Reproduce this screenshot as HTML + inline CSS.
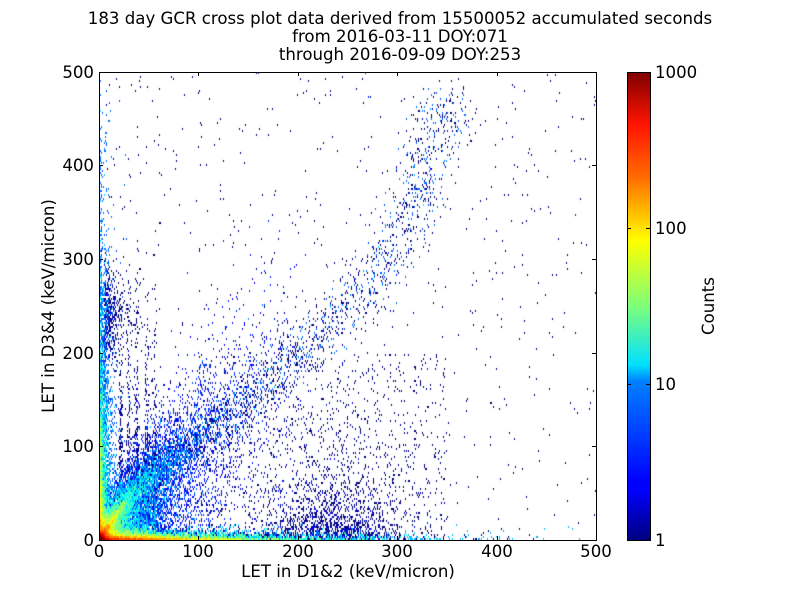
<!DOCTYPE html>
<html><head><meta charset="utf-8"><style>
body{margin:0;background:#fff;width:800px;height:600px;overflow:hidden;font-family:"Liberation Sans","DejaVu Sans",sans-serif}
#c{position:absolute;left:99px;top:72px}
svg{position:absolute;left:0;top:0}
text{font-family:"DejaVu Sans","Liberation Sans",sans-serif;fill:#000}
</style></head><body>
<canvas id="c" width="497" height="468"></canvas>
<svg width="800" height="600">
<defs><linearGradient id="jet" x1="0" y1="1" x2="0" y2="0">
<stop offset="0" stop-color="#00007f"/><stop offset="0.11" stop-color="#0000ff"/><stop offset="0.125" stop-color="#0000ff"/><stop offset="0.34" stop-color="#0080ff"/><stop offset="0.375" stop-color="#00e0ff"/><stop offset="0.5" stop-color="#7dff7a"/><stop offset="0.64" stop-color="#ffff00"/><stop offset="0.78" stop-color="#ff6800"/><stop offset="0.89" stop-color="#ff1300"/><stop offset="1" stop-color="#7f0000"/></linearGradient></defs>
<g font-size="16.6" text-anchor="middle">
<text x="400" y="24">183 day GCR cross plot data derived from 15500052 accumulated seconds</text>
<text x="400" y="42">from 2016-03-11 DOY:071</text>
<text x="400" y="60">through 2016-09-09 DOY:253</text>
</g>
<rect x="99.5" y="72.5" width="497" height="468" fill="none" stroke="#000"/>
<g stroke="#000" stroke-width="1">
<path d="M99.5 540v-4M198.5 540v-4M298.5 540v-4M397.5 540v-4M497.5 540v-4M596.5 540v-4M99.5 72v4M198.5 72v4M298.5 72v4M397.5 72v4M497.5 72v4M596.5 72v4"/>
<path d="M99 540.5h4M99 446.5h4M99 353.5h4M99 259.5h4M99 165.5h4M99 72.5h4M596 446.5h-4M596 353.5h-4M596 259.5h-4M596 165.5h-4M596 72.5h-4"/>
</g>
<g font-size="16.6" text-anchor="middle">
<text x="99" y="557">0</text><text x="198" y="557">100</text><text x="298" y="557">200</text><text x="397" y="557">300</text><text x="497" y="557">400</text><text x="596" y="557">500</text>
</g>
<g font-size="16.6" text-anchor="end">
<text x="94" y="546">0</text><text x="94" y="452">100</text><text x="94" y="359">200</text><text x="94" y="265">300</text><text x="94" y="171">400</text><text x="94" y="78">500</text>
</g>
<text x="348" y="577" font-size="16.6" text-anchor="middle">LET in D1&amp;2 (keV/micron)</text>
<text transform="translate(54,306) rotate(-90)" font-size="16.6" text-anchor="middle">LET in D3&amp;4 (keV/micron)</text>
<rect x="627.5" y="72.5" width="23" height="468" fill="url(#jet)" stroke="#000"/>
<path d="M650 384.5h-4M650 228.5h-4M627 384.5h4M627 228.5h4" stroke="#000"/>
<g font-size="16.6"><text x="655" y="546">1</text><text x="655" y="390">10</text><text x="655" y="234">100</text><text x="655" y="78">1000</text></g>
<text transform="translate(714,306) rotate(-90)" font-size="16.6" text-anchor="middle">Counts</text>
</svg>
<script>
var s=12345;function r(){s=(s*1103515245+12345)%2147483648;return s/2147483648;}
function ex(m){return -Math.log(1-r()+1e-12)*m;}
function g(){return Math.sqrt(-2*Math.log(r()+1e-12))*Math.cos(6.2832*r());}
var PW=497,PH=468,BW=497,BH=234,cnt=new Float32Array(BW*BH);
function add(x,y){if(x<0||y<0||x>=500||y>=500)return;var px=Math.floor(x*0.994),py=Math.floor((y*0.936)/2);if(px>=BW||py>=BH)return;cnt[py*BW+px]++;}
var i,k;
for(i=0;i<45000;i++)add(ex(70),ex(3));
for(i=0;i<25000;i++)add(ex(4),ex(90));
for(i=0;i<500;i++)add(5+ex(10),240+g()*25);
for(i=0;i<20000;i++)add(ex(2.2),ex(2.2));
for(i=0;i<6000;i++){var t=ex(12);add(t*0.65+g()*1.5,t+g()*1.5);}
var T=[[0,0],[25,40],[50,65],[100,110],[150,150],[230,230],[280,280],[320,360],[350,480]];
var L=[0];for(k=1;k<T.length;k++)L.push(L[k-1]+Math.hypot(T[k][0]-T[k-1][0],T[k][1]-T[k-1][1]));
for(i=0;i<11000;i++){var d=r()<0.6?ex(70):r()*L[L.length-1];if(d>=L[L.length-1])continue;for(k=1;L[k]<d;k++);var f=(d-L[k-1])/(L[k]-L[k-1]);var x=T[k-1][0]+f*(T[k][0]-T[k-1][0]),y=T[k-1][1]+f*(T[k][1]-T[k-1][1]);var sp=3+Math.min(d*0.05,11);add(x+g()*sp,y+g()*sp);}
for(i=0;i<26000;i++){var x=ex(40),y=Math.abs(x*0.9+g()*(12+x*0.4));add(x,y);}
var st=[22,30,38,48,56];for(i=0;i<2000;i++){add(st[(r()*5)|0]+g()*1.2,ex(60));}
for(i=0;i<1300;i++)add(235+g()*35,ex(30));
for(i=0;i<900;i++)add(100+r()*250,r()*200);
for(i=0;i<700;i++)add(r()*500,r()*500);
function jet(v){var c=function(x){return Math.max(0,Math.min(1,x));};return [c(1.5-Math.abs(4*v-3)),c(1.5-Math.abs(4*v-2)),c(1.5-Math.abs(4*v-1))];}
var cv=document.getElementById('c').getContext('2d');
var img=cv.createImageData(PW,PH),D=img.data;
for(var by=0;by<BH;by++)for(var bx=0;bx<BW;bx++){var n=cnt[by*BW+bx];if(n<1)continue;var v=Math.min(1,Math.log(n)/Math.log(1000));var c=jet(v);
for(var dy=0;dy<2;dy++){var py=PH-1-(by*2+dy);if(py<0)continue;var o=(py*PW+bx)*4;D[o]=c[0]*255|0;D[o+1]=c[1]*255|0;D[o+2]=c[2]*255|0;D[o+3]=255;}}
cv.putImageData(img,0,0);
</script>
</body></html>
